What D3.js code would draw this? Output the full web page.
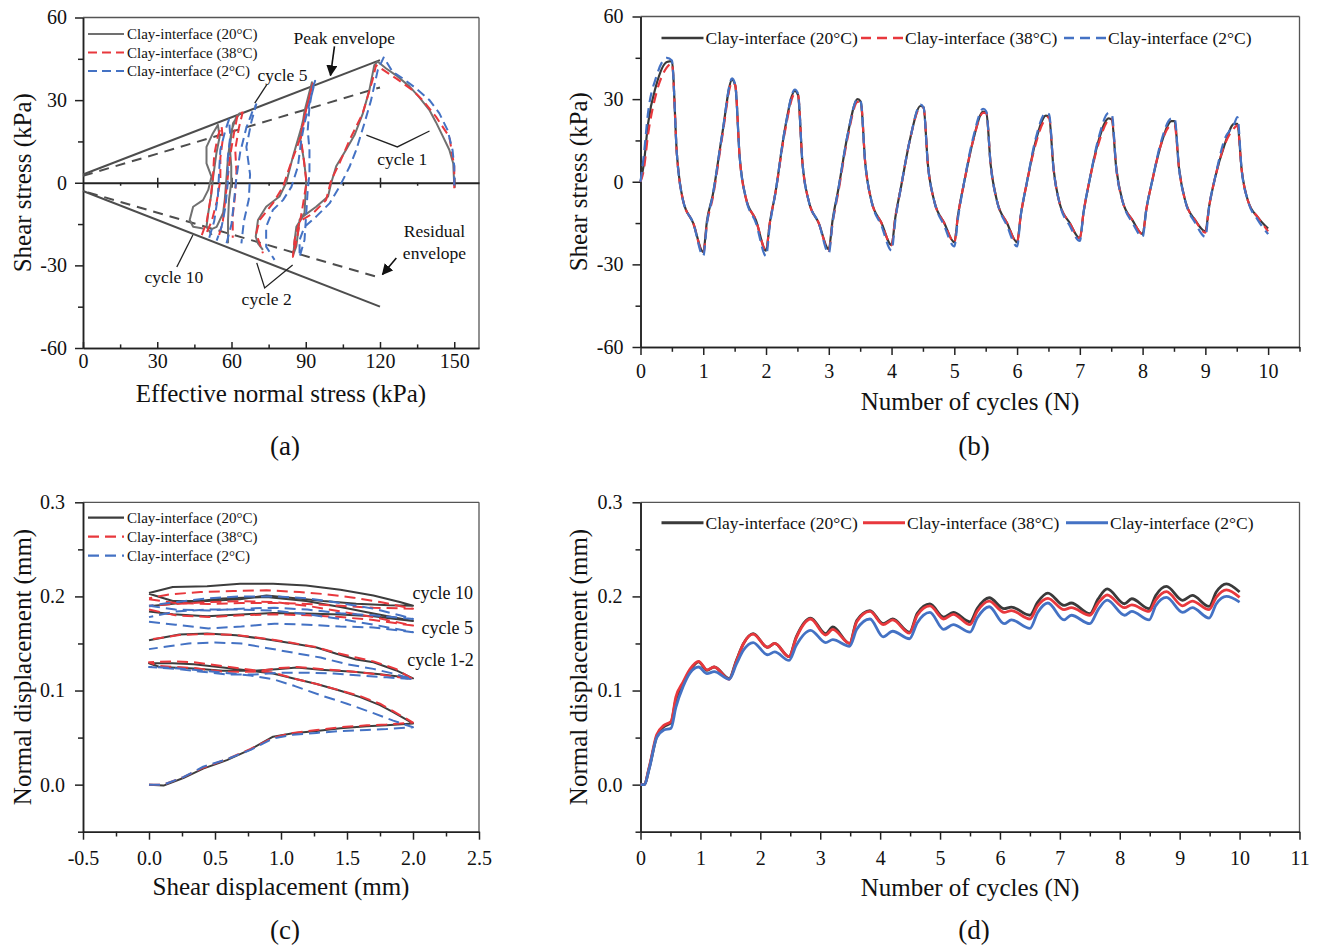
<!DOCTYPE html>
<html>
<head>
<meta charset="utf-8">
<script src="https://cdn.jsdelivr.net/npm/d3@7"></script>
<style>
  body { margin: 0; background: #fff; }
  text { font-family: "Liberation Serif", "Times New Roman", serif; fill: #111; }
</style>
</head>
<body>
<svg id="fig" width="1317" height="946"></svg>
<script>
// ---- series names ----
const seriesNames = ["Clay-interface (20°C)", "Clay-interface (38°C)", "Clay-interface (2°C)"];

// ---- (a) shear stress vs effective normal stress, [sigma, tau] per loop segment ----
const aLoops20 = [
  [[150,-1],[149.6,7],[148,12],[145.3,17],[142.6,22],[139.9,26.5],[135.9,31],[131.9,35],[126.5,39],[122.5,41.5],[119,44],
   [117.7,42.7],[115.7,33.6],[113,25],[109.7,17.3],[106.3,12],[102.3,6],[100.3,0],[99,-5],[94.2,-8.7],[88.8,-12.3],[86.2,-16],[85.5,-21],[85,-26],
   [86.2,-23],[87.5,-13.5],[89.5,-11],[90.2,1],[89.3,8],[87.8,16],[89.5,26],[91.5,33],[92.5,36.5],
   [88.2,20],[84.8,9.4],[82.1,0],[79.4,-5],[74,-8.7],[70.7,-13.5],[69.8,-19.6],[70.7,-22],[72.7,-24.4]],
  [[51.5,-17],[54,-16],[56.6,-11],[57.3,-6],[57.9,1],[58.6,9.4],[60,19],[62,24],[63.3,25.2],[60.6,21.6],[59.3,13],[59.9,6],[59.9,0],[59,-6],[58.6,-13.5],[58.6,-22]],
  [[48.5,-16.6],[44.5,-16],[43.1,-13.5],[44.5,-8.7],[48.5,-6.3],[50.6,-2.6],[51.9,2.2],[49.9,7],[49.9,13],[52.5,18],[54.5,21],[55.2,16.7],[53.9,10.7],[52.6,2.2],[51.9,-3.8],[50.6,-11],[49.9,-16],[52,-19]]
];
const aLoops38 = [
  [[150,-2],[150,6],[148,16.7],[142.6,24],[137.2,30],[133.2,33.6],[126.5,37.9],[118.4,42.7],
   [117,37.3],[113,25.2],[107.7,15.5],[103.6,7],[100.3,1],[98.2,-6.3],[92.9,-11.1],[87.5,-14.1],[85.5,-20.8],[84.8,-26.9],
   [86.5,-20],[88.5,-10],[90.3,0],[89,10],[88,16],[90,26],[92,33],[92.9,36],
   [89.5,24],[87.5,15.5],[83.5,5.8],[80.8,-1.5],[76.7,-7.5],[71.4,-13.5],[70,-18.4],[72.7,-25.6]],
  [[55,-19],[56.5,-14],[57.5,-6],[58.5,2],[59.5,10],[61,18],[62.6,25.2],[64.5,25.5],[63,20],[61.5,12],[62,4],[61.5,-4],[60.5,-12],[60.5,-20]],
  [[48,-19],[50,-14],[51.5,-6],[52.5,2],[53,10],[54.5,17],[56,20.5],[56.5,16],[55.5,9],[55.5,1],[54,-7],[52,-14],[50,-18]]
];
const aLoops2 = [
  [[150,-1],[150,6],[149.3,11.9],[147.3,19.1],[144,25.2],[140,30],[134.5,34.3],[129.2,37.9],[125.1,40.3],[121.5,45.5],
   [119.1,40.9],[116.4,30],[113.7,21.6],[110.4,11.9],[107.7,5.8],[103.6,-1.5],[99.6,-7.5],[94.2,-12.3],[89.5,-16],[87.5,-20.8],[87.5,-26.9],
   [89.5,-20.8],[90.2,-11.1],[90.8,-2.6],[91.5,3.4],[91.5,11.9],[90.8,19.1],[91.5,27.6],[92.9,34.8],[93.8,37],
   [89.5,21.6],[88.2,15.5],[86.8,5.8],[84.2,-1.5],[80.8,-6.3],[76.7,-9.9],[74,-16],[74,-23.2],[77.4,-28]],
  [[58,-22],[60,-15],[61,-7],[62,2],[63.5,11],[66,20],[68.5,26],[70,28.5],[68,22],[66,13],[67.5,3],[67,-6],[65,-14],[64,-22]],
  [[51,-20],[53,-14],[54.5,-5],[55,4],[55.5,12],[57.5,19],[59,23],[59.5,17],[58.5,9],[58.5,0],[57.5,-9],[56,-16],[54,-21]]
];
const peakEnvelope = [[[0,3],[120,44.5]], [[0,-3],[120,-45]]];
const residualEnvelope = [[[0,2.5],[120,34.6]], [[2,-3.5],[120,-34.5]]];

// ---- (b) shear stress vs number of cycles ----
const bCycles = [0,0.05,0.12,0.25,0.42,0.5,0.58,0.68,0.84, 1,1.06,1.15,1.3,1.46,1.51,1.58,1.68,1.84,
  2,2.06,2.15,2.3,2.46,2.51,2.58,2.68,2.84, 3,3.06,3.15,3.3,3.46,3.51,3.58,3.68,3.84,
  4,4.06,4.15,4.3,4.46,4.51,4.58,4.68,4.84, 5,5.06,5.15,5.3,5.46,5.51,5.58,5.68,5.84,
  6,6.06,6.15,6.3,6.46,6.51,6.58,6.68,6.84, 7,7.06,7.15,7.3,7.46,7.51,7.58,7.68,7.84,
  8,8.06,8.15,8.3,8.46,8.51,8.58,8.68,8.84, 9,9.06,9.15,9.3,9.46,9.51,9.58,9.68,9.84, 10];
const bShear20 = [0,6,21,35,43.5,43.8,10,-7,-15, -25.5,-14,-5,17,37,35,9,-6,-14,
  -25,-15,-4,19,33,31.5,7,-7,-15, -24.5,-14,-3,17,30,29,7,-7,-15,
  -23,-13,-2,16,27.5,27,6,-7,-15, -22,-12,-1,15,25.5,25,6,-7,-15,
  -22,-12,-1,15,24,23.5,5,-8,-15, -20.5,-11,0,15,23,22.5,5,-7,-14,
  -19,-10,0,14,22,22,5,-7,-14, -18,-9,1,13,21,21,4,-7,-13, -17];
const bShear38 = [0,4,17,32,41.5,43,10,-7,-15, -26,-15,-6,16,36,35,9,-6,-14,
  -25,-15,-4,18,32,31.5,7,-7,-15, -25,-15,-4,16,29,29,7,-7,-15,
  -23,-13,-2,16,27,27,6,-7,-15, -22,-12,-1,15,25,25,6,-7,-15,
  -22,-12,-1,14,23,23.5,5,-8,-15, -20.5,-11,0,14,22.5,23,5,-7,-14,
  -19,-10,0,14,20.5,20.5,5,-7,-14, -18.5,-9,1,13,19.5,20.5,4,-7,-13, -18];
const bShear2 = [0,9,25,38,45,44,10,-7,-15, -27,-15,-5,17,37.5,35,9,-6,-15,
  -27,-16,-4,19,33.5,32,7,-7,-15, -26,-15,-3,17,30,29,7,-7,-16,
  -25,-14,-2,16,28,27,6,-7,-16, -23.5,-13,-1,16,26.5,25.5,6,-7,-16,
  -23.5,-12,-1,16,25,24.5,5,-8,-16, -21.5,-11,0,16,25,24.5,5,-7,-15,
  -20,-10,0,15,23,23,5,-7,-15, -20,-9,1,15,21,23.5,4,-7,-14, -19];

// ---- (c) normal vs shear displacement, [shear, normal] per loop segment ----
const cLoops20 = [
  [[0,0],[0.11,-0.001],[0.26,0.007],[0.41,0.017],[0.59,0.026],[0.77,0.0375],[0.94,0.051],[1.09,0.0545],[1.27,0.057],[1.45,0.06],[1.65,0.062],[1.8,0.063],[2,0.065],
   [1.85,0.077],[1.75,0.0845],[1.6,0.093],[1.45,0.0997],[1.27,0.107],[1.12,0.112],[0.94,0.118],[0.77,0.121],[0.56,0.1245],[0.34,0.128],[0.18,0.129],[0,0.129],
   [0.08,0.125],[0.34,0.1234],[0.56,0.121],[0.79,0.121],[0.99,0.123],[1.12,0.1245],[1.3,0.122],[1.55,0.12],[1.75,0.1174],[2,0.113],
   [1.87,0.1216],[1.7,0.13],[1.57,0.133],[1.42,0.139],[1.27,0.1457],[1.07,0.1506],[0.89,0.1545],[0.66,0.1587],[0.44,0.1605],[0.23,0.1595],[0,0.1534]],
  [[0,0.184],[0.18,0.181],[0.44,0.179],[0.69,0.1807],[0.94,0.1824],[1.19,0.1818],[1.45,0.1807],[1.7,0.179],[1.9,0.1754],[2,0.174],
   [1.7,0.1818],[1.45,0.1888],[1.19,0.1951],[0.89,0.1994],[0.56,0.1977],[0.31,0.194],[0,0.1895]],
  [[0,0.2029],[0.18,0.1951],[0.44,0.1951],[0.69,0.197],[0.89,0.2011],[1.07,0.1987],[1.32,0.1951],[1.57,0.1923],[1.82,0.1905],[2,0.19],
   [1.9,0.194],[1.7,0.201],[1.45,0.207],[1.19,0.2117],[0.94,0.2135],[0.69,0.2135],[0.44,0.2107],[0.18,0.21],[0,0.2036]]
];
const cLoops38 = [
  [[0,0],[0.11,0],[0.26,0.008],[0.41,0.018],[0.59,0.027],[0.77,0.038],[0.94,0.05],[1.09,0.055],[1.27,0.058],[1.45,0.061],[1.65,0.063],[1.8,0.064],[2,0.066],
   [1.85,0.078],[1.75,0.086],[1.6,0.094],[1.45,0.1],[1.27,0.107],[1.12,0.112],[0.94,0.119],[0.77,0.122],[0.56,0.126],[0.34,0.13],[0.18,0.131],[0,0.13],
   [0.08,0.126],[0.34,0.124],[0.56,0.12],[0.79,0.12],[0.99,0.124],[1.12,0.125],[1.3,0.123],[1.55,0.12],[1.75,0.117],[2,0.112],
   [1.87,0.123],[1.7,0.131],[1.57,0.135],[1.42,0.14],[1.27,0.146],[1.07,0.151],[0.89,0.155],[0.66,0.159],[0.44,0.16],[0.23,0.159],[0,0.154]],
  [[0,0.186],[0.2,0.18],[0.45,0.178],[0.7,0.18],[0.95,0.181],[1.2,0.18],[1.45,0.178],[1.7,0.175],[2,0.169],
   [1.7,0.178],[1.45,0.184],[1.2,0.19],[0.95,0.194],[0.7,0.195],[0.45,0.194],[0.2,0.192],[0,0.19]],
  [[0,0.197],[0.2,0.193],[0.45,0.192],[0.7,0.193],[0.95,0.193],[1.2,0.192],[1.45,0.19],[1.7,0.188],[2,0.187],
   [1.75,0.194],[1.55,0.1987],[1.35,0.2022],[1.14,0.2047],[0.89,0.2065],[0.64,0.2058],[0.39,0.2047],[0.16,0.2022],[0,0.198]]
];
const cLoops2 = [
  [[0,0],[0.11,0],[0.26,0.008],[0.41,0.019],[0.59,0.027],[0.77,0.037],[0.94,0.049],[1.09,0.053],[1.27,0.055],[1.45,0.057],[1.65,0.058],[1.8,0.059],[2,0.061],
   [1.85,0.068],[1.7,0.076],[1.5,0.086],[1.3,0.095],[1.1,0.105],[0.94,0.112],[0.77,0.116],[0.56,0.119],[0.34,0.122],[0.18,0.124],[0,0.125],
   [0.2,0.123],[0.4,0.12],[0.6,0.117],[0.8,0.117],[1,0.119],[1.2,0.119],[1.4,0.118],[1.6,0.116],[1.8,0.114],[2,0.112],
   [1.85,0.118],[1.7,0.123],[1.5,0.128],[1.3,0.135],[1.1,0.14],[0.9,0.145],[0.7,0.15],[0.5,0.151],[0.3,0.15],[0.15,0.147],[0,0.144]],
  [[0,0.173],[0.2,0.17],[0.45,0.166],[0.7,0.168],[0.95,0.171],[1.2,0.17],[1.45,0.168],[1.7,0.167],[2,0.162],
   [1.7,0.17],[1.45,0.176],[1.2,0.181],[0.95,0.185],[0.7,0.186],[0.45,0.186],[0.2,0.184],[0,0.178]],
  [[0,0.19],[0.2,0.186],[0.45,0.185],[0.7,0.187],[0.95,0.188],[1.2,0.186],[1.45,0.182],[1.7,0.18],[2,0.176],
   [1.9,0.18],[1.7,0.187],[1.45,0.193],[1.2,0.198],[0.95,0.2],[0.7,0.2],[0.45,0.198],[0.2,0.194],[0,0.19]]
];

// ---- (d) normal displacement vs number of cycles ----
const dCycles = [0,0.06,0.15,0.27,0.39,0.51,0.59,0.71,0.83,0.97, 1.11,1.23,1.48,1.6,1.72,1.88,
  2.12,2.24,2.48,2.6,2.84, 3.09,3.21,3.49,3.61,3.83, 4.05,4.21,4.49,4.62,4.83, 5.06,5.22,5.5,5.62,5.82,
  6.07,6.19,6.5,6.63,6.8, 7.07,7.19,7.5,7.64,7.79, 8.08,8.2,8.49,8.6,8.78, 9.05,9.21,9.49,9.61,9.78, 10];
const dNormal20 = [0,0,0.019,0.051,0.0615,0.066,0.09,0.107,0.1215,0.1304, 0.1215,0.125,0.1127,0.132,0.15,0.1604,
  0.146,0.15,0.136,0.157,0.177, 0.1604,0.1675,0.15,0.1745,0.185, 0.171,0.176,0.162,0.182,0.192, 0.178,0.183,0.173,0.187,0.1986,
  0.187,0.1887,0.18,0.194,0.2035, 0.1905,0.193,0.1816,0.1975,0.208, 0.1922,0.1975,0.187,0.201,0.2106, 0.1958,0.201,0.1894,0.2046,0.2134, 0.2046];
const dNormal38 = [0,0,0.02,0.053,0.063,0.067,0.093,0.109,0.123,0.131, 0.122,0.125,0.112,0.131,0.15,0.16,
  0.146,0.15,0.136,0.156,0.176, 0.159,0.165,0.15,0.173,0.184, 0.17,0.175,0.161,0.18,0.19, 0.176,0.181,0.17,0.184,0.195,
  0.183,0.185,0.176,0.19,0.198, 0.186,0.188,0.18,0.193,0.2015, 0.188,0.191,0.184,0.196,0.205, 0.19,0.195,0.186,0.199,0.207, 0.199];
const dNormal2 = [0,0,0.018,0.05,0.058,0.06,0.082,0.104,0.119,0.125, 0.118,0.12,0.112,0.128,0.143,0.151,
  0.138,0.141,0.132,0.148,0.164, 0.151,0.154,0.147,0.165,0.176, 0.157,0.163,0.155,0.172,0.183, 0.165,0.17,0.162,0.177,0.189,
  0.171,0.175,0.166,0.183,0.193, 0.175,0.18,0.171,0.186,0.196, 0.18,0.184,0.175,0.19,0.199, 0.183,0.188,0.177,0.192,0.2, 0.194];

// ---- styling ----
const FONT = '"Liberation Serif", "Times New Roman", serif';
const RED = "#e8383d", BLUE = "#4472c4";

const svg = d3.select("#fig");
svg.append("rect").attr("width", 1317).attr("height", 946).attr("fill", "#fff");

svg.append("defs").append("marker")
  .attr("id", "arrow").attr("viewBox", "0 0 10 10").attr("refX", 9).attr("refY", 5)
  .attr("markerWidth", 7).attr("markerHeight", 7).attr("orient", "auto-start-reverse")
  .append("path").attr("d", "M0,0 L10,5 L0,10 z").attr("fill", "#111");

function styleAxis(sel, fs) {
  sel.attr("font-family", FONT).attr("font-size", fs);
  sel.selectAll("path, line").attr("stroke", "#222").attr("stroke-width", 1.5);
  sel.selectAll("text").attr("fill", "#111");
}

// builds frame, ticks and titles of one panel
function makePanel(p) {
  const x = d3.scaleLinear().domain(p.xDomain).range([p.x0, p.x1]);
  const y = d3.scaleLinear().domain(p.yDomain).range([p.y1, p.y0]);
  const g = svg.append("g");

  g.append("line").attr("x1", p.x0).attr("x2", p.x1).attr("y1", p.y0).attr("y2", p.y0).attr("stroke", "#555").attr("stroke-width", 1.3);
  g.append("line").attr("x1", p.x1).attr("x2", p.x1).attr("y1", p.y0).attr("y2", p.y1).attr("stroke", "#555").attr("stroke-width", 1.3);

  g.append("g").attr("transform", `translate(0,${p.y1})`)
    .call(d3.axisBottom(x).tickValues(p.xMinor).tickSize(p.xTick * 0.6).tickSizeOuter(0).tickFormat(""))
    .call(s => styleAxis(s, 20));
  g.append("g").attr("transform", `translate(0,${p.y1})`)
    .call(d3.axisBottom(x).tickValues(p.xMajor).tickSize(p.xTick).tickPadding(p.xPad).tickSizeOuter(0).tickFormat(p.xFmt))
    .call(s => styleAxis(s, 20));
  g.append("g").attr("transform", `translate(${p.x0},0)`)
    .call(d3.axisLeft(y).tickValues(p.yMinor).tickSize(5).tickSizeOuter(0).tickFormat(""))
    .call(s => styleAxis(s, 20));
  g.append("g").attr("transform", `translate(${p.x0},0)`)
    .call(d3.axisLeft(y).tickValues(p.yMajor).tickSize(8).tickPadding(p.yPad).tickSizeOuter(0).tickFormat(p.yFmt))
    .call(s => styleAxis(s, 20));

  g.append("text").attr("x", (p.x0 + p.x1) / 2).attr("y", p.xTitleY)
    .attr("text-anchor", "middle").attr("font-size", 25).text(p.xTitle);
  g.append("text").attr("transform", `translate(${p.yTitleX},${(p.y0 + p.y1) / 2}) rotate(-90)`)
    .attr("text-anchor", "middle").attr("dominant-baseline", "central").attr("font-size", 25).text(p.yTitle);
  g.append("text").attr("x", (p.x0 + p.x1) / 2 + 4).attr("y", p.tagY)
    .attr("text-anchor", "middle").attr("font-size", 27).text(p.tag);
  return { x, y, g };
}

function verticalLegend(g, x0, ys, styles) {
  styles.forEach((s, i) => {
    g.append("line").attr("x1", x0).attr("x2", x0 + 36).attr("y1", ys[i]).attr("y2", ys[i])
      .attr("stroke", s.color).attr("stroke-width", 2.2).attr("stroke-dasharray", s.dash);
    g.append("text").attr("x", x0 + 39).attr("y", ys[i]).attr("dominant-baseline", "central")
      .attr("font-size", 15).text(seriesNames[i]);
  });
}
function horizontalLegend(g, xs, y0, styles, w) {
  styles.forEach((s, i) => {
    g.append("line").attr("x1", xs[i]).attr("x2", xs[i] + 42).attr("y1", y0).attr("y2", y0)
      .attr("stroke", s.color).attr("stroke-width", w).attr("stroke-dasharray", s.dash);
    g.append("text").attr("x", xs[i] + 44).attr("y", y0).attr("dominant-baseline", "central")
      .attr("font-size", 17.5).text(seriesNames[i]);
  });
}

const yFmtInt = d => String(d);
const fmt1 = d => d.toFixed(1);

// ================= (a) =================
{
  const P = makePanel({
    x0: 83, x1: 479, y0: 17.5, y1: 348, xDomain: [0, 160], yDomain: [-60, 60],
    xMajor: [0, 30, 60, 90, 120, 150], xMinor: [15, 45, 75, 105, 135], xTick: -6, xPad: 6, xFmt: yFmtInt,
    yMajor: [-60, -30, 0, 30, 60], yMinor: [-45, -15, 15, 45], yPad: 8, yFmt: yFmtInt,
    xTitle: "Effective normal stress (kPa)", xTitleY: 402, yTitle: "Shear stress (kPa)", yTitleX: 22,
    tag: "(a)", tagY: 455
  });
  const { x, y, g } = P;
  // zero line with crossing ticks
  const z = g.append("g").attr("transform", `translate(0,${y(0)})`);
  z.append("g").call(d3.axisBottom(x).tickValues([30, 60, 90, 120, 150]).tickSize(5).tickSizeOuter(0).tickFormat(""))
    .call(s => styleAxis(s, 20)).selectAll("path").attr("stroke-width", 2);
  z.append("g").call(d3.axisTop(x).tickValues([30, 60, 90, 120, 150]).tickSize(5).tickSizeOuter(0).tickFormat(""))
    .call(s => styleAxis(s, 20)).select(".domain").remove();
  z.append("g").call(d3.axisBottom(x).tickValues([15, 45, 75, 105, 135]).tickSize(3).tickSizeOuter(0).tickFormat(""))
    .call(s => styleAxis(s, 20)).select(".domain").remove();

  const line = d3.line().x(d => x(d[0])).y(d => y(d[1]));
  peakEnvelope.forEach(seg => g.append("path").attr("d", line(seg)).attr("fill", "none").attr("stroke", "#4d4d4d").attr("stroke-width", 2));
  residualEnvelope.forEach(seg => g.append("path").attr("d", line(seg)).attr("fill", "none").attr("stroke", "#4d4d4d").attr("stroke-width", 2).attr("stroke-dasharray", "10,7"));

  const styles = [{ color: "#707070", dash: null }, { color: RED, dash: "9,5" }, { color: BLUE, dash: "9,5" }];
  [aLoops20, aLoops38, aLoops2].forEach((loops, i) => {
    loops.forEach(seg => g.append("path").attr("d", line(seg)).attr("fill", "none")
      .attr("stroke", styles[i].color).attr("stroke-width", 2).attr("stroke-dasharray", styles[i].dash)
      .attr("stroke-linejoin", "round"));
  });

  // annotations
  const notes = [
    { t: "Peak envelope", at: [105.6, 52.6] }, { t: "cycle 5", at: [80.6, 39.1] }, { t: "cycle 1", at: [129, 8.6] },
    { t: "Residual", at: [142, -17.6] }, { t: "envelope", at: [142, -25.5] },
    { t: "cycle 10", at: [36.7, -34.2] }, { t: "cycle 2", at: [74.2, -42.2] }
  ];
  notes.forEach(n => g.append("text").attr("x", x(n.at[0])).attr("y", y(n.at[1]))
    .attr("text-anchor", "middle").attr("dominant-baseline", "central").attr("font-size", 17.5).text(n.t));
  const leaders = [
    [[74.2, 35.5], [69.4, 28.9]],
    [[114.5, 17.3], [127, 13], [140, 18.8]],
    [[37.9, -30.6], [44.4, -19]],
    [[70.2, -29.1], [73.4, -38.2], [84.7, -29.9]]
  ];
  leaders.forEach(l => g.append("path").attr("d", line(l)).attr("fill", "none").attr("stroke", "#222").attr("stroke-width", 1.3));
  const arrows = [[[101.6, 49.5], [100, 39]], [[126.6, -27.3], [121, -33.3]]];
  arrows.forEach(l => g.append("path").attr("d", line(l)).attr("fill", "none").attr("stroke", "#111")
    .attr("stroke-width", 1.6).attr("marker-end", "url(#arrow)"));

  verticalLegend(g, 88, [34, 52.5, 71], styles);
}

// ================= (b) =================
{
  const { x, y, g } = makePanel({
    x0: 640.5, x1: 1299.5, y0: 16.5, y1: 347, xDomain: [0, 10.5], yDomain: [-60, 60],
    xMajor: d3.range(0, 11), xMinor: [0.5, 1.5, 2.5, 3.5, 4.5, 5.5, 6.5, 7.5, 8.5, 9.5, 10.5], xTick: 8, xPad: 9, xFmt: yFmtInt,
    yMajor: [-60, -30, 0, 30, 60], yMinor: [-45, -15, 15, 45], yPad: 9, yFmt: yFmtInt,
    xTitle: "Number of cycles (N)", xTitleY: 410, yTitle: "Shear stress (kPa)", yTitleX: 578,
    tag: "(b)", tagY: 455
  });
  const styles = [{ color: "#3a3a3a", dash: null }, { color: RED, dash: "10,6" }, { color: BLUE, dash: "10,6" }];
  const line = d3.line().x((d, i) => x(bCycles[i])).y(d => y(d)).curve(d3.curveMonotoneX);
  [bShear20, bShear38, bShear2].forEach((vals, i) => {
    g.append("path").attr("d", line(vals)).attr("fill", "none").attr("stroke", styles[i].color)
      .attr("stroke-width", 2.2).attr("stroke-dasharray", styles[i].dash);
  });
  horizontalLegend(g, [661.5, 861, 1064], 38, styles, 2.4);
}

// ================= (c) =================
{
  const { x, y, g } = makePanel({
    x0: 83, x1: 479, y0: 502.3, y1: 831.7, xDomain: [-0.5, 2.5], yDomain: [-0.05, 0.3],
    xMajor: [-0.5, 0, 0.5, 1, 1.5, 2, 2.5], xMinor: [-0.25, 0.25, 0.75, 1.25, 1.75, 2.25], xTick: 8, xPad: 11, xFmt: fmt1,
    yMajor: [0, 0.1, 0.2, 0.3], yMinor: [-0.05, 0.05, 0.15, 0.25], yPad: 10, yFmt: fmt1,
    xTitle: "Shear displacement (mm)", xTitleY: 895, yTitle: "Normal displacement (mm)", yTitleX: 22,
    tag: "(c)", tagY: 939
  });
  const styles = [{ color: "#3d3d3d", dash: null }, { color: RED, dash: "11,6" }, { color: BLUE, dash: "11,6" }];
  const line = d3.line().x(d => x(d[0])).y(d => y(d[1]));
  [cLoops20, cLoops38, cLoops2].forEach((loops, i) => {
    loops.forEach(seg => g.append("path").attr("d", line(seg)).attr("fill", "none")
      .attr("stroke", styles[i].color).attr("stroke-width", 2).attr("stroke-dasharray", styles[i].dash)
      .attr("stroke-linejoin", "round"));
  });
  const notes = [{ t: "cycle 10", at: [2.455, 0.204] }, { t: "cycle 5", at: [2.455, 0.1665] }, { t: "cycle 1-2", at: [2.46, 0.1322] }];
  notes.forEach(n => g.append("text").attr("x", x(n.at[0])).attr("y", y(n.at[1]))
    .attr("text-anchor", "end").attr("dominant-baseline", "central").attr("font-size", 18).text(n.t));
  verticalLegend(g, 88, [517.7, 536.7, 555.7], styles);
}

// ================= (d) =================
{
  const { x, y, g } = makePanel({
    x0: 640.5, x1: 1299.5, y0: 502.3, y1: 831.7, xDomain: [0, 11], yDomain: [-0.05, 0.3],
    xMajor: d3.range(0, 12), xMinor: [0.5, 1.5, 2.5, 3.5, 4.5, 5.5, 6.5, 7.5, 8.5, 9.5, 10.5], xTick: 8, xPad: 11, xFmt: yFmtInt,
    yMajor: [0, 0.1, 0.2, 0.3], yMinor: [-0.05, 0.05, 0.15, 0.25], yPad: 10, yFmt: fmt1,
    xTitle: "Number of cycles (N)", xTitleY: 896, yTitle: "Normal displacement (mm)", yTitleX: 578,
    tag: "(d)", tagY: 939
  });
  const styles = [{ color: "#3a3a3a", dash: null }, { color: RED, dash: null }, { color: BLUE, dash: null }];
  const line = d3.line().x((d, i) => x(dCycles[i])).y(d => y(d)).curve(d3.curveMonotoneX);
  [dNormal20, dNormal38, dNormal2].forEach((vals, i) => {
    g.append("path").attr("d", line(vals)).attr("fill", "none").attr("stroke", styles[i].color)
      .attr("stroke-width", 2.8).attr("stroke-linejoin", "round");
  });
  horizontalLegend(g, [661.5, 863, 1066], 522.7, styles, 3);
}
</script>
</body>
</html>
